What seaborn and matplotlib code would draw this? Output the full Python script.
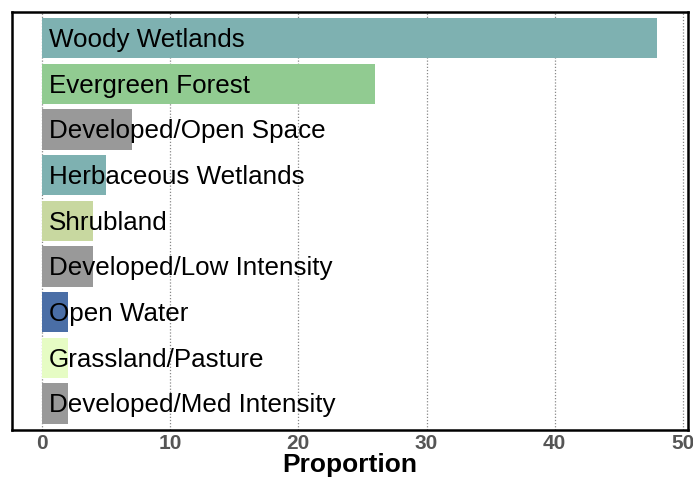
import pandas as pd
import matplotlib
matplotlib.use("Agg")
import matplotlib.pyplot as plt
import seaborn as sns

# Данные: классы землепользования и их доля
categories = ["Woody Wetlands", "Evergreen Forest", "Developed/Open Space",
              "Herbaceous Wetlands", "Shrubland", "Developed/Low Intensity",
              "Open Water", "Grassland/Pasture", "Developed/Med Intensity"]
proportion = [48, 26, 7, 5, 4, 4, 2, 2, 2]
bar_colors = ["#7eb1b1", "#91cb91", "#999999", "#7eb1b1", "#c8d8a0",
              "#999999", "#4a6ea6", "#e6fcc4", "#999999"]
x_ticks = [0, 10, 20, 30, 40, 50]

df = pd.DataFrame({"Category": categories, "Proportion": proportion})
palette = dict(zip(categories, bar_colors))

sns.set_style("white")
plt.rcParams["font.family"] = ["Liberation Sans", "DejaVu Sans"]

fig = plt.figure(figsize=(6.93, 4.78), dpi=100)
ax = fig.add_axes([12 / 693, 48 / 478, 676 / 693, 418 / 478])

sns.barplot(data=df, x="Proportion", y="Category", hue="Category",
            palette=palette, order=categories, hue_order=categories,
            orient="h", width=0.88, saturation=1, legend=False,
            linewidth=0, ax=ax)

# Подписи внутри столбцов
for i, name in enumerate(categories):
    ax.text(0.55, i + 0.04, name, va="center", ha="left", fontsize=18.7,
            color="black")

ax.set_xlim(-2.34, 50.4)
ax.set_ylim(8.58, -0.57)
ax.set_xticks(x_ticks)
ax.set_xticklabels([str(t) for t in x_ticks], fontsize=15, fontweight="bold",
                   color="#555555")
ax.set_yticks([])
ax.set_ylabel("")
ax.set_xlabel("Proportion", fontsize=19, fontweight="bold", color="black",
              labelpad=0)
ax.tick_params(axis="x", length=0, pad=3)

ax.grid(axis="x", linestyle=(0, (1, 1.5)), color="#888888", linewidth=0.9)
ax.set_axisbelow(True)
for sp in ax.spines.values():
    sp.set_color("black")
    sp.set_linewidth(1.8)

fig.savefig("out.png", dpi=100)
